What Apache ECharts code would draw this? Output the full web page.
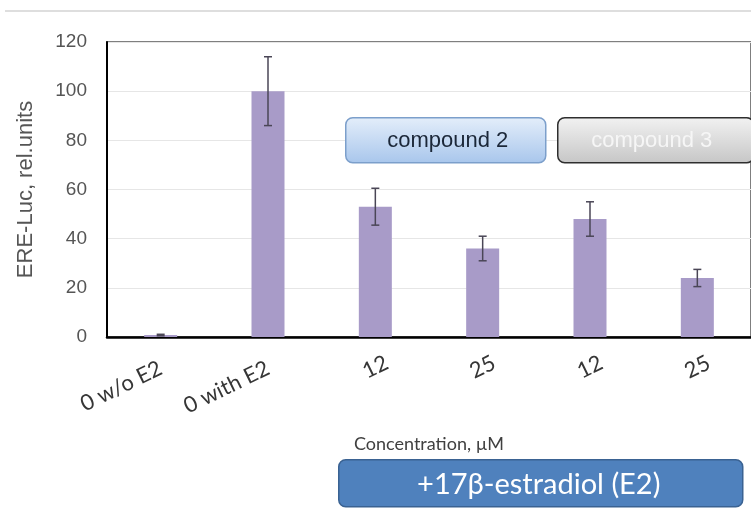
<!DOCTYPE html>
<html><head><meta charset="utf-8">
<script src="https://cdn.jsdelivr.net/npm/echarts@6/dist/echarts.min.js"></script>
<style>html,body{margin:0;padding:0;background:#fff}#c{width:751px;height:508px}</style>
</head><body><div id="c"></div>
<script>
const categories = ['0 w/o E2', '0 with E2', '12', '25', '12', '25'];
const values = [0.8, 100, 53, 36, 48, 24];
const errLow = [0.5, 86, 45.5, 31, 41, 20.5];
const errHigh = [1.1, 114, 60.5, 41, 55, 27.5];
const yTicks = [0, 20, 40, 60, 80, 100, 120];
const yName = 'ERE-Luc, rel.units';
const xName = 'Concentration, \u00b5M';
const boxLabels = ['compound 2', 'compound 3', '+17\u03b2-estradiol (E2)'];

const labelFont = '22px Lato';
const cv = document.createElement('canvas').getContext('2d');
cv.font = labelFont;
const rich = { t: { fontFamily: 'Lato', fontSize: 22, color: '#363636' } };
categories.forEach((c, i) => {
  const w = cv.measureText(c).width;
  rich['sp' + i] = { width: w > 40 ? w : 0, fontSize: 22 };
});

const chart = echarts.init(document.getElementById('c'));
chart.setOption({
  animation: false,
  grid: { left: 107, right: -4, top: 42, bottom: 171, show: true, borderColor: '#555', borderWidth: 1.5 },
  xAxis: {
    type: 'category', data: categories,
    axisLine: { lineStyle: { color: '#000', width: 2.5 } },
    axisTick: { show: false },
    axisLabel: {
      interval: 0, rotate: 26, margin: 30, align: 'center', verticalAlign: 'middle',
      formatter: (v, i) => '{t|' + v + '}{sp' + i + '| }',
      rich: rich
    },
    name: xName, nameLocation: 'middle', nameGap: 98,
    nameTextStyle: { fontFamily: 'Lato', fontSize: 18, color: '#404040' }
  },
  yAxis: {
    type: 'value', min: yTicks[0], max: yTicks[yTicks.length - 1], interval: 20,
    axisLine: { show: true, lineStyle: { color: '#000', width: 2 } },
    axisTick: { show: false },
    splitLine: { lineStyle: { color: '#e6e6e6', width: 1 } },
    axisLabel: { margin: 20, fontFamily: 'Liberation Sans', fontSize: 19, color: '#555555' },
    name: yName, nameLocation: 'middle', nameGap: 70, nameRotate: 90,
    nameTextStyle: { fontFamily: 'Liberation Sans', fontSize: 22, color: '#555555' }
  },
  series: [
    { type: 'bar', data: values, barWidth: 33, itemStyle: { color: '#a89bc8' } },
    {
      type: 'custom', data: categories.map((c, i) => [i, errLow[i], errHigh[i]]), z: 5,
      renderItem: (params, api) => {
        const lo = api.coord([api.value(0), api.value(1)]);
        const hi = api.coord([api.value(0), api.value(2)]);
        const hw = 4;
        const st = { stroke: '#4a4656', lineWidth: 1.5 };
        return { type: 'group', children: [
          { type: 'line', shape: { x1: hi[0], y1: hi[1], x2: lo[0], y2: lo[1] }, style: st },
          { type: 'line', shape: { x1: hi[0] - hw, y1: hi[1], x2: hi[0] + hw, y2: hi[1] }, style: st },
          { type: 'line', shape: { x1: lo[0] - hw, y1: lo[1], x2: lo[0] + hw, y2: lo[1] }, style: st }
        ]};
      }
    }
  ],
  graphic: [
    { type: 'line', shape: { x1: 5, y1: 11, x2: 751, y2: 11 }, style: { stroke: '#dedede', lineWidth: 2 } },
    { type: 'group', left: 345, top: 117, z: 100, children: [
      { type: 'rect', z: 100, shape: { x: 0, y: 0, width: 200, height: 45, r: 7 },
        style: { fill: new echarts.graphic.LinearGradient(0, 0, 0, 1, [{ offset: 0, color: '#e4eefa' }, { offset: 1, color: '#a8c6ec' }]), stroke: '#7c9fcb', lineWidth: 1.5 } },
      { type: 'text', z: 101, style: { x: 102, y: 23, text: boxLabels[0], align: 'center', verticalAlign: 'middle', fontFamily: 'Liberation Sans', fontSize: 22, fill: '#1b2738' } }
    ]},
    { type: 'group', left: 557, top: 117, z: 100, children: [
      { type: 'rect', z: 100, shape: { x: 0, y: 0, width: 196, height: 45, r: 7 },
        style: { fill: new echarts.graphic.LinearGradient(0, 0, 0, 1, [{ offset: 0, color: '#f2f2f2' }, { offset: 1, color: '#c6c6c6' }]), stroke: '#2e2e2e', lineWidth: 1.5 } },
      { type: 'text', z: 101, style: { x: 94, y: 23, text: boxLabels[1], align: 'center', verticalAlign: 'middle', fontFamily: 'Liberation Sans', fontSize: 22, fill: '#f6f6f6' } }
    ]},
    { type: 'group', left: 338, top: 459, z: 100, children: [
      { type: 'rect', z: 100, shape: { x: 0, y: 0, width: 404, height: 47, r: 7 },
        style: { fill: '#4f81bd', stroke: '#3a6292', lineWidth: 1.5 } },
      { type: 'text', z: 101, style: { x: 200, y: 25, text: boxLabels[2], align: 'center', verticalAlign: 'middle', fontFamily: 'Lato', fontSize: 29, fill: '#ffffff' } }
    ]}
  ]
});
</script></body></html>
